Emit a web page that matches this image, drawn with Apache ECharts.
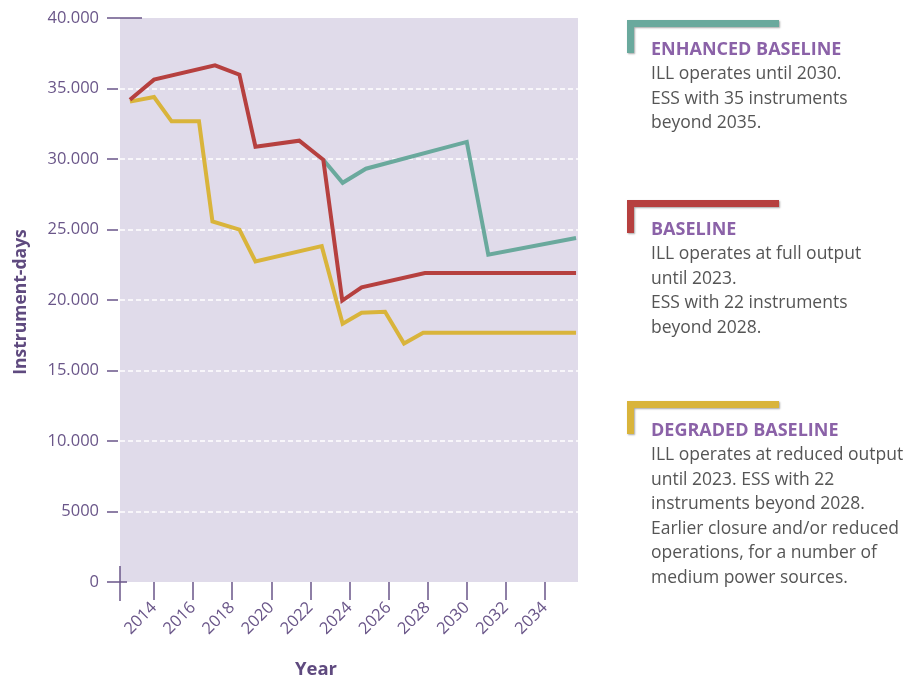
<!DOCTYPE html>
<html><head><meta charset="utf-8">
<script src="https://cdn.jsdelivr.net/npm/echarts@6/dist/echarts.min.js"></script>
<style>html,body{margin:0;padding:0;background:#fff}#c{width:914px;height:679px}</style>
</head><body><div id="c"></div>
<script>
// ---- data ----
const yearTicks = [2014, 2016, 2018, 2020, 2022, 2024, 2026, 2028, 2030, 2032, 2034];
const yTickValues = [0, 5000, 10000, 15000, 20000, 25000, 30000, 35000, 40000];
const yTickLabels = ['0', '5000', '10.000', '15.000', '20.000', '25.000', '30.000', '35.000', '40.000'];

const baselineYears  = [2012.77, 2014.0, 2017.12, 2018.37, 2019.19, 2021.43, 2022.66, 2023.63, 2024.62, 2027.86, 2035.59];
const baselineValues = [34200, 35630, 36640, 35980, 30870, 31300, 29950, 19960, 20900, 21920, 21920];

const degradedYears  = [2012.77, 2014.0, 2014.9, 2016.3, 2016.99, 2018.37, 2019.19, 2022.58, 2023.65, 2024.62, 2025.82, 2026.79, 2027.77, 2035.59];
const degradedValues = [34070, 34400, 32670, 32670, 25570, 24990, 22740, 23820, 18320, 19090, 19160, 16910, 17670, 17670];

const enhancedYears  = [2022.66, 2023.65, 2024.84, 2030.0, 2031.1, 2035.59];
const enhancedValues = [29950, 28310, 29310, 31210, 23220, 24400];

const legendItems = [
  { title: 'ENHANCED BASELINE', color: '#6aa99d',
    lines: ['ILL operates until 2030.', 'ESS with 35 instruments', 'beyond 2035.'] },
  { title: 'BASELINE', color: '#b6403f',
    lines: ['ILL operates at full output', 'until 2023.', 'ESS with 22 instruments', 'beyond 2028.'] },
  { title: 'DEGRADED BASELINE', color: '#d9b43b',
    lines: ['ILL operates at reduced output', 'until 2023. ESS with 22', 'instruments beyond 2028.', 'Earlier closure and/or reduced', 'operations, for a number of', 'medium power sources.'] }
];

// ---- helpers ----
const zip = (xs, ys) => xs.map((x, i) => [x, ys[i]]);
const FONT = '"Open Sans", sans-serif';
const AXIS_COLOR = '#6a5689';

const chart = echarts.init(document.getElementById('c'));

function lineSeries(name, xs, ys, color, z) {
  return {
    name, type: 'line', data: zip(xs, ys), showSymbol: false, symbol: 'none',
    z, lineStyle: { color, width: 4, join: 'miter', cap: 'butt' }, animation: false
  };
}

chart.setOption({
  animation: false,
  grid: { left: 120, top: 18, right: 336, bottom: 97, show: true, backgroundColor: '#e0dbea', borderWidth: 0 },
  xAxis: {
    type: 'value', min: 2012.26, max: 2035.69,
    axisLine: { show: false },
    axisTick: { show: true, length: 18, customValues: yearTicks, lineStyle: { color: AXIS_COLOR, width: 1.5 } },
    axisLabel: { customValues: yearTicks, rotate: 45, margin: 23, color: AXIS_COLOR, fontFamily: FONT, fontSize: 16.5,
      formatter: v => String(v) },
    splitLine: { show: false }
  },
  yAxis: {
    type: 'value', min: 0, max: 40000, interval: 5000, offset: 2,
    axisLine: { show: false },
    axisTick: { show: true, length: 11, lineStyle: { color: AXIS_COLOR, width: 1.5 } },
    axisLabel: { margin: 19, color: AXIS_COLOR, fontFamily: FONT, fontSize: 16.5,
      formatter: v => yTickLabels[yTickValues.indexOf(v)] },
    splitLine: { show: true, showMinLine: false, showMaxLine: false, lineStyle: { color: '#ffffff', width: 1.6, type: [5, 3] } }
  },
  series: [
    lineSeries('Degraded baseline', degradedYears, degradedValues, '#d9b43b', 2),
    lineSeries('Enhanced baseline', enhancedYears, enhancedValues, '#6aa99d', 3),
    lineSeries('Baseline', baselineYears, baselineValues, '#b6403f', 4)
  ]
});

// ---- decorations & annotation text ----
const p0 = chart.convertToPixel({ gridIndex: 0 }, [2012.26, 0]);
const pTop = chart.convertToPixel({ gridIndex: 0 }, [2012.26, 40000]);
const graphics = [
  { type: 'line', shape: { x1: p0[0] - 2, y1: pTop[1], x2: p0[0] + 22, y2: pTop[1] }, style: { stroke: AXIS_COLOR, lineWidth: 1.5 }, z: 10 },
  { type: 'line', shape: { x1: p0[0] - 2, y1: p0[1], x2: p0[0] + 7, y2: p0[1] }, style: { stroke: AXIS_COLOR, lineWidth: 1.5 }, z: 10 },
  { type: 'line', shape: { x1: p0[0], y1: p0[1] - 16, x2: p0[0], y2: p0[1] + 19 }, style: { stroke: AXIS_COLOR, lineWidth: 1.5 }, z: 10 },
  { type: 'text', x: 21, y: 302, rotation: Math.PI / 2,
    style: { text: 'Instrument-days', fill: '#5f4a7f', font: 'bold 17.5px ' + FONT, align: 'center', verticalAlign: 'middle' } },
  { type: 'text', x: 316, y: 670,
    style: { text: 'Year', fill: '#5f4a7f', font: 'bold 18.5px ' + FONT, align: 'center', verticalAlign: 'middle' } }
];

const blockTops = [20, 200, 401];
legendItems.forEach((item, i) => {
  const t = blockTops[i];
  graphics.push({ type: 'polyline', shape: { points: [[630.5, t + 33], [630.5, t + 3.5], [779, t + 3.5]] },
    style: { stroke: item.color, lineWidth: 7, lineJoin: 'miter', lineCap: 'butt', fill: null,
      shadowBlur: 2, shadowOffsetX: 1, shadowOffsetY: 1, shadowColor: 'rgba(0,0,0,0.35)' }, z: 10 });
  graphics.push({ type: 'text', x: 651, y: t + 29.5,
    style: { text: item.title, fill: '#8b62a8', font: 'bold 18px ' + FONT, align: 'left', verticalAlign: 'middle' }, z: 10 });
  item.lines.forEach((ln, j) => {
    graphics.push({ type: 'text', x: 651, y: t + 54 + j * 24.6,
      style: { text: ln, fill: '#555555', font: '17.5px ' + FONT, align: 'left', verticalAlign: 'middle' }, z: 10 });
  });
});
chart.setOption({ graphic: graphics });
</script></body></html>
